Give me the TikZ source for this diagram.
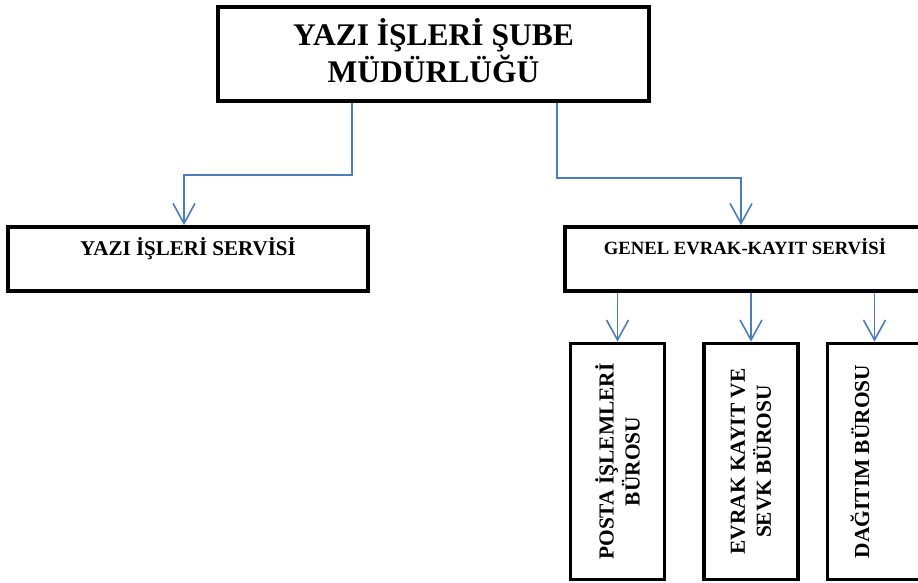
\documentclass[tikz,border=0pt]{standalone}
\usepackage{fontspec}
\setmainfont{Liberation Serif}
\usetikzlibrary{arrows.meta}
\definecolor{connblue}{HTML}{4A7EBB}
\begin{document}
\begin{tikzpicture}[x=1pt,y=-1pt,
  orgbox/.style={draw=black, line width=3.8pt, rectangle, inner sep=0pt, font=\bfseries, align=center},
  vbox/.style={orgbox, rotate=90, minimum width=236pt, minimum height=94pt,
     font=\fontsize{21.4}{26}\selectfont\bfseries},
  conn/.style={draw=connblue, line width=1.6pt, -{Straight Barb[length=20pt,width=22pt,line width=1.6pt]}}
]
\useasboundingbox (0,0) rectangle (918,583);
\clip (0,0) rectangle (918,583);

\node[orgbox, minimum width=431pt, minimum height=94pt,
      font=\fontsize{31.5}{37}\selectfont\bfseries, text depth=6pt] (top) at (433.5,54)
  {YAZI İŞLERİ ŞUBE\\MÜDÜRLÜĞÜ};

\node[orgbox, minimum width=360pt, minimum height=64pt,
      font=\fontsize{21}{25}\selectfont\bfseries, text height=15pt, text depth=23pt] (yazi) at (188,259)
  {YAZI İŞLERİ SERVİSİ};

\node[orgbox, minimum width=360pt, minimum height=64pt,
      font=\fontsize{18.7}{22}\selectfont\bfseries, text height=14pt, text depth=24pt] (genel) at (745,259)
  {GENEL EVRAK-KAYIT SERVİSİ};

\node[vbox] (posta) at (617.5,461.5) {POSTA İŞLEMLERİ\\BÜROSU};
\node[vbox] (evrak) at (751,461.5) {EVRAK KAYIT VE\\SEVK BÜROSU};
\node[vbox, text height=14pt, text depth=25pt] (dagitim) at (874.5,461.5) {DAĞITIM BÜROSU};

\coordinate (l1) at (352,175);
\coordinate (l2) at (184,175);
\coordinate (r1) at (557,178);
\coordinate (r2) at (741,178);

\draw[conn] (top.south -| l1) -- (l1) -- (l2) -- (l2 |- yazi.north);
\draw[conn] (top.south -| r1) -- (r1) -- (r2) -- (r2 |- genel.north);

\draw[conn] (posta.east |- genel.south) -- (posta.east);
\draw[conn] (evrak.east |- genel.south) -- (evrak.east);
\draw[conn] (dagitim.east |- genel.south) -- (dagitim.east);
\end{tikzpicture}
\end{document}
